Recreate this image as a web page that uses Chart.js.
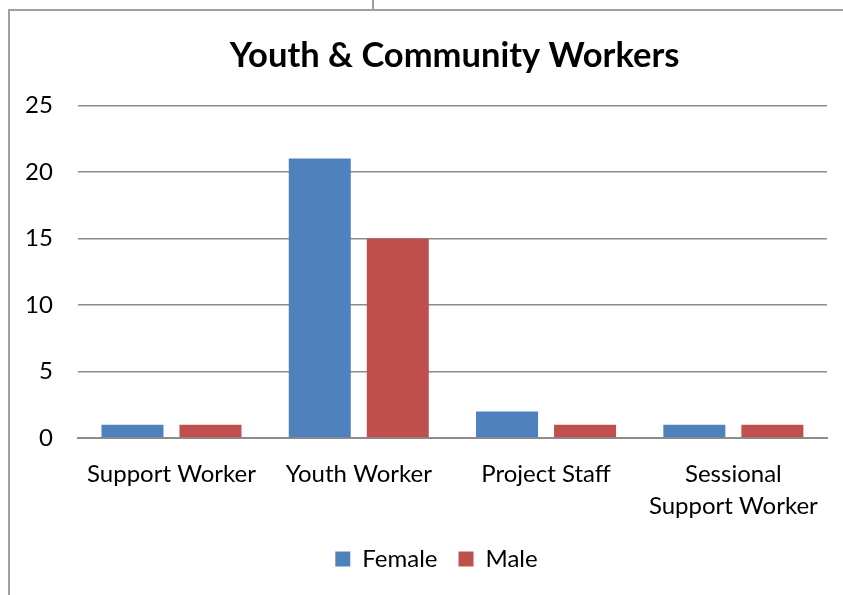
<!DOCTYPE html>
<html>
<head>
<meta charset="utf-8">
<script src="https://cdn.jsdelivr.net/npm/chart.js@4"></script>
<style>
  html, body { margin: 0; padding: 0; background: #fff; }
  #wrap { position: relative; width: 843px; height: 595px; }
  #frame { position: absolute; left: 8px; top: 9px; right: -2px; bottom: -2px;
           border-left: 2px solid #a0a0a0; border-top: 2px solid #a0a0a0; }
  #nub { position: absolute; left: 372px; top: 0; width: 2px; height: 9px; background: #a0a0a0; }
  canvas { position: absolute; left: 0; top: 0; }
</style>
</head>
<body>
<div id="wrap">
  <div id="frame"></div>
  <div id="nub"></div>
  <canvas id="myChart" width="843" height="595"></canvas>
</div>
<script>
var categorias = ['Support Worker', 'Youth Worker', 'Project Staff', ['Sessional', 'Support Worker']]
var female = [1, 21, 2, 1]
var male = [1, 15, 1, 1]
var yTicks = [0, 5, 10, 15, 20, 25]

// empurra legenda e titulo um pouco para a direita, como no original
const shiftBlocks = {
    id: 'shiftBlocks',
    afterLayout: function (chart) {
        chart.legend.left += 23
        chart.legend.right += 23
        chart.titleBlock.left += 41
        chart.titleBlock.right += 41
    }
}

const ctx = document.getElementById('myChart').getContext('2d');
const myChart = new Chart(ctx, {
    type: 'bar',
    data: {
        labels: categorias,
        datasets: [{
            label: 'Female',
            data: female,
            backgroundColor: '#4F81BD',
            categoryPercentage: 0.833,
            barPercentage: 0.795
        },
        {
            label: 'Male',
            data: male,
            backgroundColor: '#C0504D',
            categoryPercentage: 0.833,
            barPercentage: 0.795
        }]
    },
    plugins: [shiftBlocks],
    options: {
        responsive: false,
        animation: false,
        layout: { padding: { left: 0, right: 16, top: 20, bottom: 14 } },
        plugins: {
            title: {
                display: true,
                text: 'Youth & Community Workers',
                color: '#000',
                font: { family: 'Lato', size: 34.5, weight: 'bold' },
                padding: { top: 15, bottom: 29 }
            },
            legend: {
                position: 'bottom',
                labels: {
                    color: '#000',
                    font: { family: 'Lato', size: 24 },
                    boxWidth: 15,
                    boxHeight: 15,
                    padding: 21
                }
            },
            tooltip: { enabled: false }
        },
        scales: {
            y: {
                min: 0,
                max: 25,
                afterBuildTicks: function (axis) {
                    axis.ticks = yTicks.map(function (v) { return { value: v } })
                },
                ticks: { color: '#000', font: { family: 'Lato', size: 24 }, padding: 25 },
                grid: { color: '#8c8c8c', lineWidth: 1.5, drawTicks: false },
                border: { display: false }
            },
            x: {
                afterFit: function (axis) { axis.height = 88 },
                ticks: { color: '#000', font: { family: 'Lato', size: 24, lineHeight: 1.35 }, padding: 20, maxRotation: 0 },
                grid: { display: false, drawTicks: false },
                border: { color: '#8c8c8c', width: 2 }
            }
        }
    }
});
</script>
</body>
</html>
